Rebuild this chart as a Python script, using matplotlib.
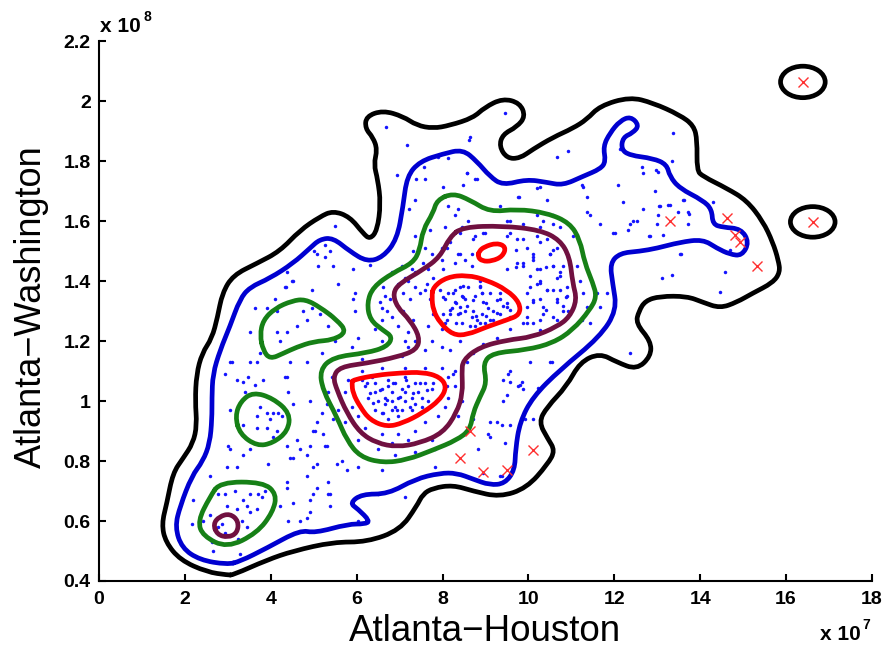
import matplotlib
matplotlib.use("Agg")
import matplotlib.pyplot as plt
from matplotlib.path import Path
from matplotlib.patches import PathPatch, Ellipse

# ---------------- data (x in units of 1e7, y in units of 1e8) ----------------
x_ticks = [0, 2, 4, 6, 8, 10, 12, 14, 16, 18]
x_tick_labels = ["0", "2", "4", "6", "8", "10", "12", "14", "16", "18"]
y_ticks = [0.4, 0.6, 0.8, 1.0, 1.2, 1.4, 1.6, 1.8, 2.0, 2.2]
y_tick_labels = ["0.4", "0.6", "0.8", "1", "1.2", "1.4", "1.6", "1.8", "2", "2.2"]

x_label = "Atlanta\u2212Houston"
y_label = "Atlanta\u2212Washington"
x_exponent = "7"
y_exponent = "8"

dots_left = [
    (4.49,1.40),(4.35,1.38),(4.10,1.34),(3.63,1.31),(3.91,1.31),(4.14,1.30),(4.75,1.30),(4.96,1.37),(5.00,1.50),
    (4.38,1.43),(4.33,1.38),(4.52,1.40),(4.61,1.25),(4.96,1.31),(5.14,1.29),(4.84,1.27),
    (3.51,1.23),(4.14,1.23),(4.38,1.23),(4.21,1.20),(3.10,1.13),(3.51,1.13),(3.68,1.13),(3.75,1.16),(4.45,1.13),
    (4.33,1.08),(4.84,1.13),(2.93,1.09),(3.21,1.07),(3.35,1.065),(3.63,1.055),(3.82,1.07),(3.47,1.08),(3.40,1.03),
    (4.40,1.03),(4.52,0.99),(4.91,1.00),(3.05,0.97),(3.75,0.98),(3.91,0.96),(4.05,0.96),(4.17,0.96),(4.26,0.95),
    (3.98,0.94),(3.68,0.95),(3.91,0.91),(4.14,0.90),(3.68,0.91),(3.35,0.92),(4.05,0.88),(3.00,0.85),(3.35,0.82),
    (2.98,0.78),(2.58,0.75),(3.21,0.78),(3.51,0.84),(3.93,0.79),(4.38,0.85),(4.45,0.81),(4.68,0.84),(4.84,0.75),
    (4.38,0.73),(2.77,0.69),(2.93,0.69),(3.17,0.70),(3.51,0.69),(3.70,0.69),(3.86,0.70),(3.79,0.68),(2.19,0.67),
    (3.35,0.67),(3.44,0.65),(3.68,0.64),(3.51,0.63),(2.98,0.65),(3.21,0.64),(3.33,0.60),(3.44,0.58),(2.77,0.58),
    (2.93,0.56),(2.86,0.59),(3.24,0.54),(2.16,0.59),(2.42,0.60),(2.58,0.62),(4.21,0.65),(4.52,0.66),(4.40,0.60),
    (4.68,0.60),(4.84,0.61),(4.98,0.69),(2.63,0.53),(2.65,0.50),(3.28,0.49),(4.61,0.87),(4.84,0.82),(4.98,0.78),
    (4.38,1.08),(5.07,0.93),(4.98,0.90),(5.21,0.89),(4.91,0.85),(5.31,0.85),(4.52,0.81),(5.07,0.79),(5.54,0.79),
    (5.77,0.77),(4.38,0.71),(5.07,0.71),(5.38,0.69),(4.91,0.67),(5.38,0.65),(4.91,0.63),(5.31,0.99),(5.45,0.94),
    (3.05,1.13),(3.05,0.84),
]

dots_center = [
    (6.68,1.915),(7.17,1.855),(6.93,1.755),(7.38,1.74),(7.59,1.74),(7.36,1.67),(7.22,1.64),(7.70,1.57),(5.49,1.585),
    (5.26,1.52),(5.38,1.50),(5.07,1.49),(5.10,1.45),(5.45,1.45),(5.91,1.44),(6.31,1.455),(5.56,1.39),(5.91,1.34),
    (7.31,1.50),(7.29,1.44),(7.54,1.46),(6.61,1.38),(6.96,1.39),(7.12,1.41),(6.77,1.34),(7.08,1.36),(7.24,1.34),
    (6.82,1.28),(7.08,1.30),(7.31,1.27),(7.47,1.36),(7.70,1.34),(7.94,1.37),(7.78,1.41),(8.01,1.44),(7.63,1.39),
    (7.78,1.29),(8.01,1.29),(6.70,1.30),(6.54,1.33),
    (7.57,1.78),(7.89,1.815),(8.12,1.81),(8.61,1.87),(8.57,1.76),(8.75,1.74),(8.01,1.715),(8.12,1.65),(8.36,1.64),
    (8.29,1.62),(8.05,1.58),(8.45,1.58),(8.59,1.60),(8.75,1.55),(8.98,1.56),(7.36,1.55),(7.59,1.51),(7.75,1.49),
    (7.98,1.51),(8.17,1.53),(8.36,1.49),(8.68,1.49),(8.29,1.46),(8.52,1.47),(8.68,1.45),(7.98,1.47),(7.05,1.45),
    (7.36,1.43),(7.66,1.44),(6.82,1.43),(7.19,1.40),(6.66,1.35),(7.36,1.38),(7.59,1.37),(6.59,1.31),(5.96,1.36),
    (5.96,1.30),(5.26,1.48),(5.38,1.29),(6.59,1.27),
    (8.12,1.36),(8.29,1.37),(8.45,1.35),(8.59,1.38),(8.75,1.35),(8.92,1.36),(8.22,1.31),(8.36,1.29),(8.52,1.30),
    (8.68,1.28),(8.92,1.29),(9.05,1.31),(8.05,1.26),(8.45,1.26),(8.75,1.25),(8.98,1.26),(8.29,1.33),(8.52,1.34),
    (8.05,1.34),(8.40,1.38),(8.87,1.38),(9.10,1.36),(9.33,1.34),(9.50,1.315),(8.94,1.33),(9.17,1.30),(8.71,1.30),
    (8.40,1.315),(8.17,1.29),(8.80,1.27),(9.10,1.27),(9.40,1.27),(9.57,1.28),(9.33,1.29),(8.87,1.40),
    (6.19,1.05),(6.42,1.06),(6.59,1.04),(6.73,1.05),(6.89,1.06),(7.05,1.04),(7.19,1.05),(7.36,1.06),(7.59,1.06),
    (7.75,1.04),(6.26,1.01),(6.49,1.00),(6.66,0.99),(6.82,1.00),(6.96,1.01),(7.12,1.00),(7.29,1.01),(7.52,1.01),
    (7.66,1.00),(6.42,0.97),(6.59,0.96),(6.82,0.97),(7.05,0.97),(7.29,0.97),(6.73,0.94),(6.96,0.95),(6.12,1.07),
    (6.35,1.08),(7.12,1.08),(6.73,1.07),(6.66,1.01),(6.42,1.03),(6.82,1.03),(7.43,1.03),(7.36,0.99),(7.52,0.98),
    (7.12,1.03),(6.89,0.98),
    (5.80,1.07),(5.73,1.03),(5.89,0.98),(6.03,0.95),(6.19,0.91),(6.59,0.89),(6.96,0.89),(7.36,0.90),(7.59,0.93),
    (7.89,0.95),(8.05,0.98),(8.12,1.01),(8.12,1.08),(7.98,1.11),(7.59,1.11),(7.12,1.11),(6.59,1.11),(6.12,1.10),
    (7.75,0.87),(7.19,0.87),(6.82,0.86),(8.29,1.10),(8.29,1.05),
    (5.33,1.13),(5.42,1.08),(5.33,1.03),(5.56,0.97),(5.73,0.93),(6.03,0.87),(6.49,0.84),(6.89,0.82),(7.36,0.83),
    (7.82,0.84),(8.12,0.86),(8.36,0.95),(8.45,1.00),(6.12,1.14),(7.05,1.15),(7.59,1.17),(7.98,1.18),(7.75,1.20),
    (7.36,1.20),(7.19,1.23),(7.66,1.25),(7.98,1.24),(6.96,1.25),(7.12,1.20),
    (5.19,0.96),(5.03,0.90),(5.26,0.85),(5.66,0.80),(6.03,0.78),(6.59,0.77),(5.33,0.73),(5.33,0.69),(6.49,0.69),
    (6.03,0.60),(7.12,0.68),(7.82,0.78),(5.89,1.18),(6.03,1.21),(5.49,1.20),(5.19,1.16),(5.33,1.25),(6.59,1.20),
    (7.19,1.18),(6.42,1.24),
]

dots_dense = [
    (8.02,1.349),(8.25,1.360),(8.32,1.327),(8.48,1.349),(8.71,1.338),(8.91,1.360),(9.02,1.327),(9.26,1.338),
    (9.41,1.316),(9.57,1.305),(8.17,1.305),(8.40,1.294),(8.56,1.316),(8.79,1.283),(9.02,1.283),(9.26,1.294),
    (9.49,1.327),(8.10,1.272),(8.32,1.261),(8.64,1.250),(8.87,1.261),(9.18,1.272),(8.48,1.383),(8.87,1.383),
    (9.33,1.360),
    (6.23,1.060),(6.54,1.038),(6.85,1.060),(7.16,1.071),(7.47,1.060),(7.78,1.060),(6.39,0.993),(6.70,1.004),
    (7.01,1.015),(7.32,1.027),(7.63,1.038),(6.62,0.960),(6.93,0.971),(7.24,0.982),(6.31,1.027),
    (9.72,1.504),(10.11,1.482),(10.42,1.449),(10.73,1.416),(10.26,1.394),(10.57,1.372),(10.88,1.349),
    (10.11,1.338),(10.42,1.305),(10.81,1.316),(9.96,1.261),(10.26,1.238),(9.72,1.449),(10.03,1.416),(10.58,1.504),
]

dots_right = [
    (9.73,1.54),(9.96,1.51),(10.26,1.53),(10.50,1.49),(10.10,1.47),(9.87,1.45),(10.26,1.44),(10.57,1.45),(10.66,1.41),
    (10.19,1.39),(10.43,1.37),(9.96,1.36),(10.10,1.33),(10.33,1.315),(10.66,1.34),(10.80,1.30),(10.57,1.28),
    (10.26,1.27),(9.96,1.28),(10.80,1.45),(10.89,1.38),(8.40,1.49),(8.71,1.54),(8.94,1.56),(9.57,1.56),(9.50,1.60),
    (9.87,1.59),(10.26,1.58),(10.57,1.59),(8.40,1.56),(8.10,1.51),(9.73,1.46),(9.50,1.44),
    (9.45,1.96),(8.64,1.88),(10.66,1.815),(10.92,1.835),(12.13,1.84),(8.57,1.76),(8.80,1.74),(8.47,1.72),
    (10.26,1.715),(9.75,1.68),(10.43,1.67),(11.27,1.715),(11.36,1.68),(12.08,1.72),(12.20,1.665),(12.64,1.78),
    (12.66,1.76),(13.01,1.765),(13.34,1.80),(13.36,1.895),(12.94,1.70),(13.59,1.67),(12.66,1.64),(13.06,1.65),
    (13.29,1.655),(13.48,1.63),(13.71,1.63),(13.01,1.62),(12.43,1.60),(12.31,1.57),(11.96,1.56),(11.66,1.59),
    (11.36,1.63),(12.83,1.55),(13.13,1.555),(13.71,1.59),(13.52,1.49),(14.29,1.665),(14.57,1.43),(13.10,1.41),
    (13.34,1.42),(14.46,1.365),(13.24,1.655),(13.62,1.67),(13.73,1.625),(14.69,1.505),(13.55,1.49),
    (10.19,1.71),(11.24,1.72),(9.78,1.68),(9.33,1.65),(12.97,1.77),(13.04,1.65),(12.36,1.59),(12.52,1.60),
    (12.01,1.56),(11.43,1.62),(12.80,1.55),(12.99,1.59),
    (9.50,1.55),(9.87,1.54),(10.19,1.55),(10.43,1.54),(10.66,1.51),(10.10,1.49),(10.50,1.49),(9.87,1.46),
    (10.19,1.44),(10.57,1.45),(10.73,1.43),(10.26,1.40),(10.03,1.38),(10.43,1.37),(10.73,1.37),(10.26,1.34),
    (10.66,1.33),(10.89,1.35),(9.96,1.315),(10.33,1.29),(10.66,1.27),(10.10,1.26),(10.92,1.30),
    (11.13,1.45),(11.20,1.40),(11.27,1.36),(11.36,1.315),(11.59,1.36),(11.24,1.27),(11.03,1.55),(10.73,1.58),
    (10.33,1.60),(9.57,1.60),(10.19,1.62),(10.57,1.62),
    (11.83,1.36),(11.66,1.315),(11.43,1.26),(10.50,1.13),(10.03,1.13),(9.57,1.10),(9.52,1.09),(9.40,1.07),
    (9.57,1.065),(9.85,1.065),(9.75,1.05),(9.87,1.04),(10.22,1.045),(9.50,1.02),(9.40,1.00),(9.26,0.93),
    (9.38,0.92),(9.45,0.86),(12.36,1.16),(9.10,0.88),(9.38,0.75),(10.10,0.94),(9.92,0.94),(9.57,0.92),(10.54,1.13),
    (9.10,0.93),(9.05,0.89),(8.82,0.84),(8.94,0.76),(9.33,0.75),(9.80,1.055),(8.40,1.00),(8.71,0.94),(8.10,1.05),
    (8.24,1.09),(8.57,1.13),(8.71,1.16),(8.17,1.17),(8.40,1.20),(8.94,1.19),(9.26,1.21),(9.57,1.24),(9.87,1.26),
]

outliers = [
    (16.39,2.065),(16.62,1.598),(13.29,1.60),(14.62,1.61),(14.80,1.555),(14.92,1.53),(15.32,1.45),
    (10.10,0.837),(9.50,0.77),(8.94,0.765),(8.40,0.81),(8.64,0.90),
]

black_main = [
    (3.00,0.42),(2.51,0.43),(1.89,0.47),(1.55,0.53),(1.46,0.59),(1.58,0.66),(1.72,0.76),(1.96,0.81),(2.19,0.86),
    (2.28,0.92),(2.24,1.00),(2.27,1.09),(2.40,1.16),(2.63,1.21),(2.76,1.28),(2.87,1.36),(3.12,1.42),(3.68,1.46),
    (4.21,1.50),(4.68,1.57),(5.14,1.615),(5.45,1.635),(5.84,1.615),(6.15,1.56),(6.31,1.54),(6.48,1.57),(6.56,1.66),
    (6.49,1.74),(6.40,1.79),(6.48,1.84),(6.38,1.88),(6.20,1.91),(6.22,1.95),(6.61,1.97),(7.08,1.95),(7.40,1.92),
    (7.78,1.91),(8.17,1.92),(8.71,1.945),(8.98,1.98),(9.40,2.01),(9.80,1.995),(9.93,1.95),(9.73,1.915),(9.40,1.89),
    (9.32,1.85),(9.50,1.81),(9.80,1.81),(10.10,1.84),(10.57,1.88),(11.03,1.91),(11.36,1.94),(11.66,1.985),
    (12.36,2.015),(12.90,1.995),(13.52,1.955),(13.85,1.92),(13.93,1.87),(13.92,1.77),(14.06,1.75),(14.62,1.71),
    (15.08,1.67),(15.46,1.60),(15.69,1.53),(15.82,1.47),(15.86,1.43),(15.69,1.395),(15.22,1.36),(14.85,1.33),
    (14.46,1.31),(14.06,1.33),(13.69,1.35),(13.06,1.35),(12.72,1.335),(12.57,1.30),(12.50,1.26),(12.85,1.20),
    (12.85,1.15),(12.52,1.105),(12.06,1.13),(11.66,1.16),(11.20,1.13),(10.89,1.05),(10.43,0.98),(10.24,0.93),
    (10.45,0.875),(10.62,0.835),(10.45,0.79),(9.96,0.71),(9.33,0.68),(8.71,0.70),(8.24,0.72),(7.78,0.71),
    (7.54,0.69),(7.40,0.65),(7.01,0.57),(6.24,0.53),(5.45,0.53),(4.52,0.50),(3.91,0.47),(3.12,0.42),
]

blue_main = [
    (2.98,0.455),(2.35,0.47),(1.93,0.51),(1.77,0.58),(1.89,0.65),(2.16,0.75),(2.42,0.80),(2.58,0.86),(2.63,0.94),
    (2.63,1.01),(2.65,1.09),(2.82,1.17),(3.05,1.25),(3.28,1.34),(3.51,1.38),(3.98,1.41),(4.52,1.46),(4.91,1.51),
    (5.14,1.54),(5.45,1.545),(5.84,1.50),(6.24,1.465),(6.61,1.48),(6.94,1.54),(7.08,1.65),(7.17,1.75),(7.47,1.80),
    (8.01,1.825),(8.47,1.84),(8.80,1.80),(9.10,1.75),(9.40,1.72),(9.96,1.74),(10.43,1.73),(10.80,1.72),
    (11.27,1.75),(11.68,1.775),(11.80,1.80),(11.74,1.85),(11.90,1.895),(12.13,1.935),(12.38,1.95),(12.58,1.92),
    (12.43,1.895),(12.20,1.88),(12.16,1.84),(12.36,1.82),(12.90,1.81),(13.22,1.79),(13.29,1.75),(13.52,1.71),
    (14.06,1.67),(14.27,1.64),(14.29,1.59),(14.53,1.58),(14.95,1.575),(15.14,1.53),(14.97,1.485),(14.69,1.49),
    (14.39,1.51),(14.06,1.54),(13.52,1.53),(12.99,1.51),(12.59,1.50),(12.13,1.494),(11.90,1.46),(11.96,1.394),
    (12.06,1.304),(11.66,1.214),(10.73,1.104),(10.10,1.014),(9.80,0.93),(9.70,0.84),(9.68,0.77),(9.45,0.725),
    (9.10,0.72),(8.71,0.74),(8.33,0.76),(7.94,0.76),(7.36,0.74),(6.73,0.69),(6.12,0.69),(5.84,0.66),(6.03,0.64),
    (6.31,0.60),(6.19,0.59),(5.80,0.59),(5.03,0.56),(4.68,0.57),(3.91,0.51),(3.28,0.465),
]

green_big = [
    (8.24,1.694),(8.64,1.671),(9.10,1.631),(9.73,1.641),(10.43,1.628),(10.96,1.595),(11.20,1.538),(11.31,1.461),
    (11.50,1.394),(11.59,1.348),(11.43,1.304),(11.03,1.237),(10.57,1.194),(9.96,1.171),(9.17,1.161),(8.94,1.127),
    (9.03,1.061),(8.87,1.014),(8.71,0.961),(8.64,0.904),(8.33,0.870),(7.78,0.837),(7.17,0.804),(6.61,0.794),
    (6.08,0.814),(5.77,0.870),(5.54,0.947),(5.21,1.037),(5.14,1.104),(5.45,1.147),(6.24,1.161),(6.70,1.181),
    (6.84,1.214),(6.61,1.237),(6.31,1.271),(6.24,1.328),(6.38,1.381),(6.84,1.428),(7.31,1.461),(7.47,1.504),
    (7.54,1.571),(7.78,1.628),(7.87,1.671),
]
green_a = [
    (3.75,1.22),(3.82,1.27),(4.10,1.31),(4.50,1.335),(4.80,1.34),(5.14,1.314),(5.54,1.271),(5.77,1.231),
    (5.45,1.204),(5.00,1.199),(4.60,1.18),(4.30,1.16),(3.98,1.14),(3.82,1.17),
]
green_b = [
    (3.17,0.95),(3.30,1.00),(3.59,1.03),(4.05,1.01),(4.45,0.96),(4.40,0.90),(4.05,0.86),(3.68,0.85),(3.28,0.89),
]
green_c = [
    (2.82,0.73),(3.82,0.73),(4.14,0.69),(4.05,0.63),(3.68,0.56),(2.98,0.51),(2.42,0.55),(2.30,0.60),(2.58,0.68),
]

purple_big = [
    (8.47,1.581),(9.40,1.585),(10.27,1.571),(10.73,1.538),(10.96,1.481),(11.03,1.394),(11.13,1.338),(10.96,1.281),
    (10.66,1.248),(10.10,1.214),(9.50,1.204),(8.87,1.181),(8.47,1.137),(8.45,1.094),(8.47,1.027),(8.33,0.961),
    (8.01,0.894),(7.47,0.860),(6.94,0.847),(6.47,0.860),(6.08,0.894),(5.77,0.961),(5.54,1.037),(5.45,1.081),
    (5.61,1.114),(6.24,1.127),(6.94,1.147),(7.40,1.171),(7.47,1.214),(7.24,1.271),(6.94,1.314),(6.84,1.361),
    (7.01,1.394),(7.54,1.438),(7.94,1.481),(8.17,1.548),
]
purple_small = [
    (2.66,0.59),(2.80,0.615),(3.05,0.625),(3.25,0.60),(3.22,0.56),(3.00,0.545),(2.75,0.555),
]

red_big = [
    (7.78,1.381),(8.10,1.414),(8.57,1.421),(9.03,1.404),(9.50,1.371),(9.80,1.328),(9.80,1.288),(9.50,1.271),
    (9.03,1.248),(8.57,1.221),(8.24,1.221),(7.94,1.261),(7.78,1.304),(7.75,1.348),
]
red_low = [
    (5.91,1.071),(6.47,1.087),(7.01,1.094),(7.54,1.097),(7.94,1.081),(8.10,1.047),(7.94,1.004),(7.54,0.961),
    (7.08,0.927),(6.70,0.914),(6.31,0.937),(6.08,0.981),(5.91,1.027),(5.89,1.061),
]
red_small = [
    (8.85,1.50),(8.97,1.515),(9.26,1.528),(9.48,1.515),(9.40,1.483),(9.15,1.467),(8.92,1.467),(8.82,1.482),
]

# two isolated black loops round the far outliers: (centre x, centre y, width, height)
black_islands = [(16.39, 2.065, 1.04, 0.105), (16.62, 1.598, 1.04, 0.102)]

# ---------------- drawing ----------------
C_BLACK = "#000000"
C_BLUE = "#0000d0"
C_GREEN = "#168016"
C_PURPLE = "#701040"
C_RED = "#ff0000"
LW = 3.4

fig = plt.figure(figsize=(8.87, 6.49), dpi=100)
ax = fig.add_axes([0.1116, 0.1048, 0.8715, 0.8313])

for group in (dots_left, dots_center, dots_dense, dots_right):
    ax.plot([p[0] for p in group], [p[1] for p in group], linestyle="none", marker="o",
            markersize=2.5, markeredgewidth=0, color="#1414ff", zorder=2)


def draw_loop(pts, color):
    """Closed smooth outline: traced points used as quadratic Bezier control points."""
    n = len(pts)
    mids = [((pts[i][0] + pts[(i + 1) % n][0]) / 2, (pts[i][1] + pts[(i + 1) % n][1]) / 2) for i in range(n)]
    verts = [mids[-1]]
    codes = [Path.MOVETO]
    for i in range(n):
        verts += [pts[i], mids[i]]
        codes += [Path.CURVE3, Path.CURVE3]
    ax.add_patch(PathPatch(Path(verts, codes), fill=False, edgecolor=color, lw=LW,
                           joinstyle="round", capstyle="round", zorder=3))


draw_loop(black_main, C_BLACK)
draw_loop(blue_main, C_BLUE)
for g in (green_big, green_a, green_b, green_c):
    draw_loop(g, C_GREEN)
draw_loop(purple_big, C_PURPLE)
draw_loop(purple_small, C_PURPLE)
draw_loop(red_big, C_RED)
draw_loop(red_low, C_RED)
draw_loop(red_small, C_RED)

for cx, cy, w, h in black_islands:
    ax.add_patch(Ellipse((cx, cy), w, h, fill=False, edgecolor=C_BLACK, lw=LW, zorder=3))

ax.plot([p[0] for p in outliers], [p[1] for p in outliers], linestyle="none", marker="x",
        markersize=7, markeredgewidth=1.0, color="#ff3030", zorder=4)

ax.set_xlim(0, 18)
ax.set_ylim(0.4, 2.2)
for s in ("top", "right"):
    ax.spines[s].set_visible(False)
for s in ("left", "bottom"):
    ax.spines[s].set_linewidth(1.5)

tick_font = dict(family="Liberation Sans", weight="bold", size=14)
ax.set_xticks(x_ticks)
ax.set_xticklabels(x_tick_labels, fontdict=tick_font)
ax.set_yticks(y_ticks)
ax.set_yticklabels(y_tick_labels, fontdict=tick_font)
ax.tick_params(axis="both", direction="in", length=5, width=1.5)
ax.tick_params(axis="x", pad=7)
ax.tick_params(axis="y", pad=6)

fig.text(485 / 887, 1 - 641 / 649, x_label, ha="center", va="baseline",
         fontsize=26.5, family="Liberation Sans")
fig.text(41 / 887, 1 - 307 / 649, y_label, ha="center", va="baseline", rotation=90,
         rotation_mode="anchor", fontsize=26, family="Liberation Sans")

exp_font = dict(family="Liberation Sans", weight="bold")
fig.text(100 / 887, 1 - 32 / 649, "x 10", ha="left", va="baseline", fontsize=15, **exp_font)
fig.text(143 / 887, 1 - 21 / 649, y_exponent, ha="left", va="baseline", fontsize=10, **exp_font)
fig.text(861 / 887, 1 - 640 / 649, "x 10", ha="right", va="baseline", fontsize=15, **exp_font)
fig.text(862 / 887, 1 - 629 / 649, x_exponent, ha="left", va="baseline", fontsize=10, **exp_font)

fig.savefig("out.png", dpi=100)
